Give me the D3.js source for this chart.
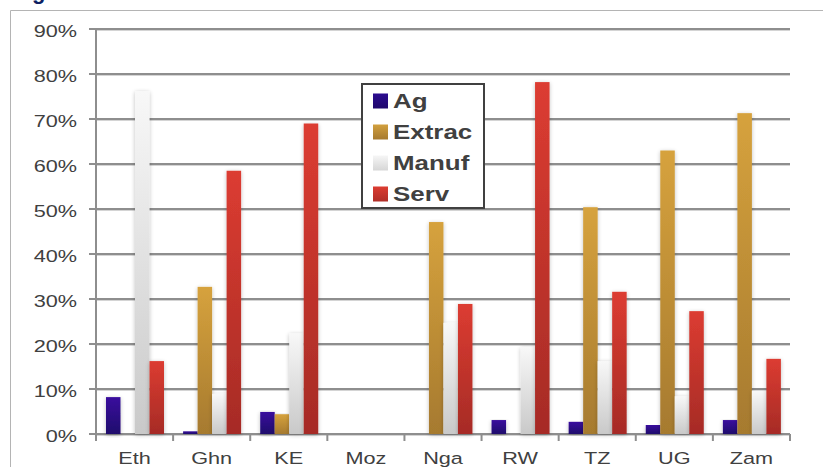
<!DOCTYPE html>
<html><head><meta charset="utf-8">
<script src="https://cdn.jsdelivr.net/npm/d3@7"></script>
<style>html,body{margin:0;padding:0;background:#fff;}svg{display:block;}</style>
</head><body>
<svg id="c" width="823" height="467"></svg>
<script>
const categories = ["Eth","Ghn","KE","Moz","Nga","RW","TZ","UG","Zam"];
const seriesNames = ["Ag","Extrac","Manuf","Serv"];
const agValues     = [8.2, 0.6, 4.9, 0, 0, 3.1, 2.7, 2.0, 3.1];
const extracValues = [0, 32.7, 4.4, 0, 47.1, 0, 50.4, 63.0, 71.3];
const manufValues  = [76.2, 8.9, 22.4, 0, 24.7, 19.3, 16.2, 8.4, 9.6];
const servValues   = [16.2, 58.5, 69.0, 0, 28.9, 78.2, 31.6, 27.3, 16.7];
const yTicks = [0,10,20,30,40,50,60,70,80,90];

const seriesValues = [agValues, extracValues, manufValues, servValues];
const gradStops = [
  ["#3a119e","#1f086c"],
  ["#d6a23d","#a67a2f"],
  ["#f8f8f8","#c9c9c9"],
  ["#dc3c31","#a62b26"]
];
const legendColors = [
  ["#2c0c90","#1f086c"],
  ["#d2a03e","#a67a2f"],
  ["#f6f6f6","#d6d6d6"],
  ["#dc3c31","#b02e28"]
];
const SX = 1.33; // horizontal stretch of text in reference

const svg = d3.select("#c");
const defs = svg.append("defs");
seriesNames.forEach((s,i)=>{
  const g = defs.append("linearGradient").attr("id","g"+i).attr("x1",0).attr("y1",0).attr("x2",0).attr("y2",1);
  g.append("stop").attr("offset","0%").attr("stop-color",gradStops[i][0]);
  g.append("stop").attr("offset","100%").attr("stop-color",gradStops[i][1]);
  const lg = defs.append("linearGradient").attr("id","lg"+i).attr("x1",0).attr("y1",0).attr("x2",0).attr("y2",1);
  lg.append("stop").attr("offset","0%").attr("stop-color",legendColors[i][0]);
  lg.append("stop").attr("offset","100%").attr("stop-color",legendColors[i][1]);
});
const f = defs.append("filter").attr("id","sh").attr("x","-50%").attr("y","-10%").attr("width","200%").attr("height","120%");
f.append("feGaussianBlur").attr("in","SourceAlpha").attr("stdDeviation",2.2).attr("result","b");
f.append("feOffset").attr("in","b").attr("dx",0).attr("dy",1).attr("result","o");
f.append("feComponentTransfer").attr("in","o").attr("result","t").append("feFuncA").attr("type","linear").attr("slope",0.25);
const fm = f.append("feMerge");
fm.append("feMergeNode").attr("in","t");
fm.append("feMergeNode").attr("in","SourceGraphic");

// outer frame
svg.append("path").attr("d","M10.5,467 V10.5 H823").attr("fill","none").attr("stroke","#b4b4b4").attr("stroke-width",1);

// clipped title descender
svg.append("text").attr("x",32).attr("y",-1).attr("font-family","Liberation Sans, Arial, sans-serif")
  .attr("font-weight","bold").attr("font-size",22).attr("fill","#0d1f63").text("g");

const pLeft = 96, pRight = 790, pTop = 29, pBottom = 434;
const x0 = d3.scaleBand().domain(categories).range([pLeft,pRight]).padding(0);
const x1 = d3.scaleBand().domain(seriesNames).range([10,68]).padding(0);
const y = d3.scaleLinear().domain([0,90]).range([pBottom,pTop]);

// gridlines
const grid = svg.append("g");
yTicks.forEach(t=>{
  grid.append("line").attr("x1",pLeft).attr("x2",pRight).attr("y1",y(t)+1.5).attr("y2",y(t)+1.5)
    .attr("stroke","#d4d4d4").attr("stroke-width",1.2);
  grid.append("line").attr("x1",pLeft-7).attr("x2",pRight).attr("y1",y(t)).attr("y2",y(t))
    .attr("stroke","#8e8e8e").attr("stroke-width",2);
});
// y axis line
svg.append("line").attr("x1",pLeft).attr("x2",pLeft).attr("y1",pTop).attr("y2",pBottom+6).attr("stroke","#8e8e8e").attr("stroke-width",2);
// x ticks
d3.range(categories.length+1).forEach(i=>{
  const xx = pLeft + i*x0.bandwidth();
  svg.append("line").attr("x1",xx).attr("x2",xx).attr("y1",pBottom).attr("y2",pBottom+7).attr("stroke","#8e8e8e").attr("stroke-width",2);
});

// y labels
yTicks.forEach(t=>{
  svg.append("g").attr("transform",`translate(77,${y(t)+7.5}) scale(${SX},1)`)
    .append("text").attr("text-anchor","end").attr("font-family","Liberation Sans, Arial, sans-serif")
    .attr("font-size",16.3).attr("fill","#404040").text(t+"%");
});
// x labels
categories.forEach(c=>{
  svg.append("g").attr("transform",`translate(${x0(c)+x0.bandwidth()/2},463.5) scale(${SX},1)`)
    .append("text").attr("text-anchor","middle").attr("font-family","Liberation Sans, Arial, sans-serif")
    .attr("font-size",16.3).attr("fill","#404040").text(c);
});

// bars
const barsG = svg.append("g");
categories.forEach((c,ci)=>{
  seriesNames.forEach((s,si)=>{
    const v = seriesValues[si][ci];
    if (v<=0) return;
    barsG.append("rect").attr("x",x0(c)+x1(s)).attr("width",x1.bandwidth())
      .attr("y",y(v)).attr("height",y(0)-y(v)).attr("fill",`url(#g${si})`).attr("filter","url(#sh)");
  });
});

// legend
const lgG = svg.append("g");
lgG.append("rect").attr("x",362).attr("y",84).attr("width",122).attr("height",124)
  .attr("fill","#fff").attr("stroke","#404040").attr("stroke-width",2);
seriesNames.forEach((s,i)=>{
  const cy = 101 + i*31;
  lgG.append("rect").attr("x",373).attr("y",cy-7.5).attr("width",15).attr("height",15).attr("fill",`url(#lg${i})`);
  lgG.append("g").attr("transform",`translate(393,${cy+7}) scale(${SX},1)`)
    .append("text").attr("font-family","Liberation Sans, Arial, sans-serif").attr("font-weight","bold")
    .attr("font-size",19.5).attr("fill","#404040").text(s);
});
</script>
</body></html>
